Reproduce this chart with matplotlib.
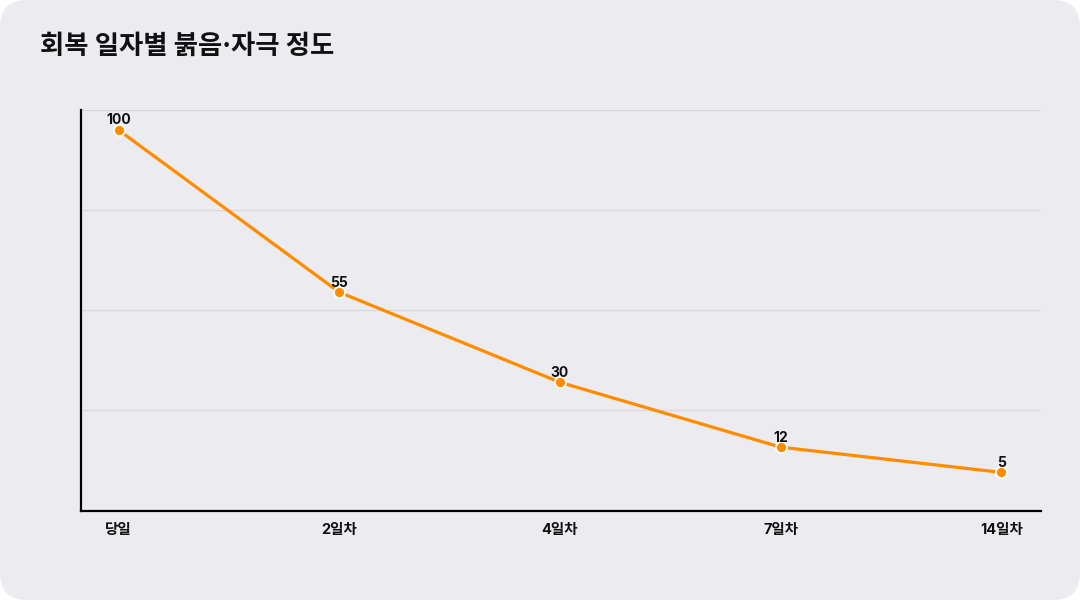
import matplotlib
matplotlib.use("Agg")
import matplotlib.pyplot as plt
from matplotlib.patches import FancyBboxPatch
import numpy as np

plt.rcParams['font.family'] = ['Inter', 'Noto Sans CJK KR', 'DejaVu Sans']

title = "회복 일자별 붉음·자극 정도"
categories = ["당일", "2일차", "4일차", "7일차", "14일차"]
values = [100, 55, 30, 12, 5]

fig = plt.figure(figsize=(10.8, 6.0), dpi=100)
fig.patch.set_facecolor("white")
bg = FancyBboxPatch((0.0, 0.0), 1.0, 1.0, boxstyle="round,pad=0,rounding_size=0.025",
                    transform=fig.transFigure, facecolor="#ECEBF0", edgecolor="none",
                    mutation_aspect=1.8, zorder=-10)
fig.patches.append(bg)

ax = fig.add_axes([0.075, 0.149, 0.889, 0.668])
ax.set_facecolor("none")

x = np.arange(len(categories))
ax.plot(x, values, color="#FF8C00", linewidth=2.3, marker="o", markersize=8,
        markerfacecolor="#FF8C00", markeredgecolor="white", markeredgewidth=1.3,
        solid_capstyle="round", zorder=3, clip_on=False)

for xi, v in zip(x, values):
    ax.annotate(f"{v}", (xi, v), xytext=(0, 4), textcoords="offset points",
                ha="center", va="baseline", fontsize=10, fontweight="bold",
                color="#111111", zorder=4)

ax.set_xlim(-0.17, 4.18)
ymin, ymax = -5.6, 105.6
ax.set_ylim(ymin, ymax)
ax.set_yticks(np.linspace(ymin, ymax, 5))
ax.set_yticklabels([])
ax.tick_params(axis="y", length=0)
ax.grid(axis="y", color="#D8D8DD", linewidth=0.9)
ax.set_axisbelow(True)

ax.set_xticks(x)
ax.set_xticklabels(categories, fontsize=10.5, fontweight="bold", color="#111111")
ax.tick_params(axis="x", length=0, pad=9)

for s in ["top", "right"]:
    ax.spines[s].set_visible(False)
for s in ["left", "bottom"]:
    ax.spines[s].set_color("black")
    ax.spines[s].set_linewidth(1.6)

fig.text(40 / 1080, 1 - 47 / 600, title, fontsize=19, fontweight="bold",
         color="#111111", ha="left", va="center")

fig.savefig("out.png", dpi=100, facecolor=fig.get_facecolor())
